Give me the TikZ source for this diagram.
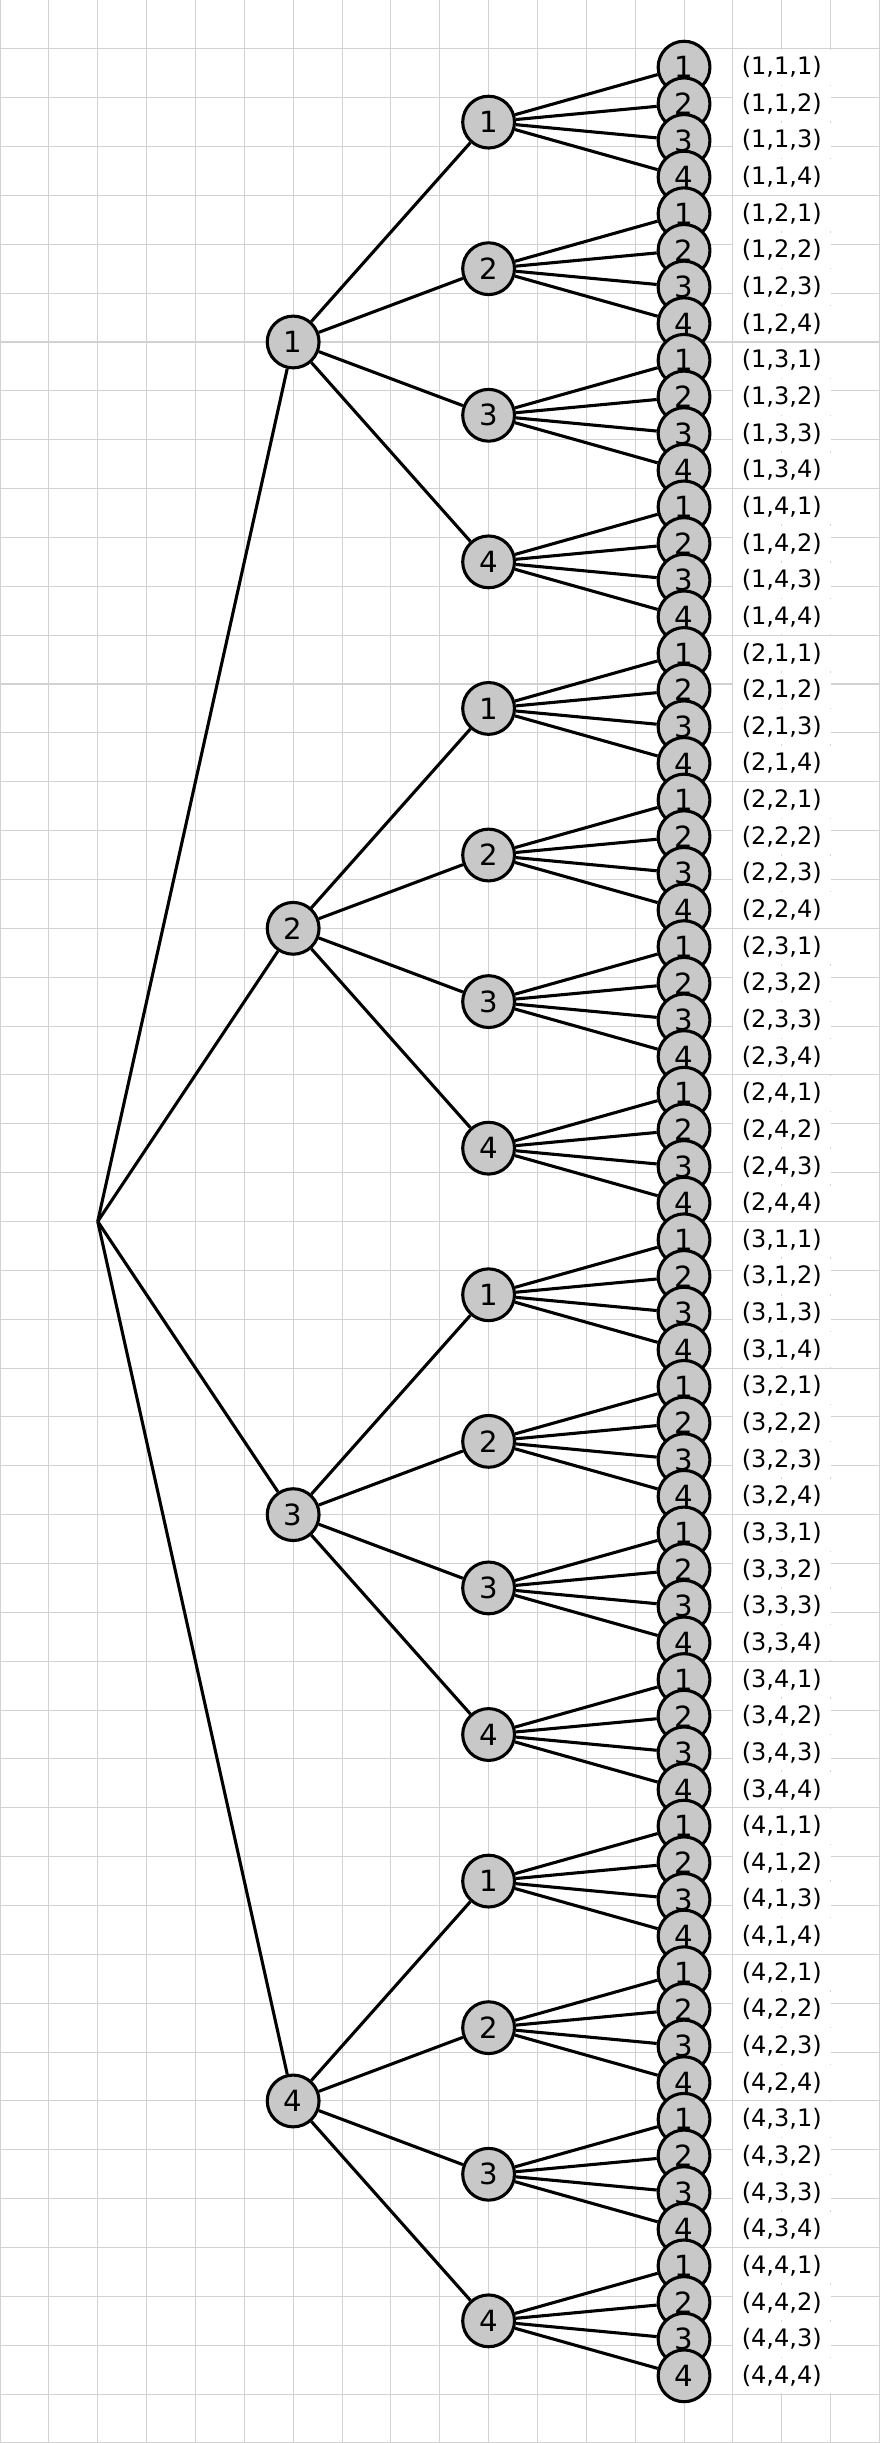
\documentclass[tikz,border=0pt]{standalone}
\usepackage{fontspec}
\setmainfont{DejaVu Sans}
\definecolor{gridc}{HTML}{D2D2D2}
\definecolor{nodefill}{HTML}{C8C8C8}
\tikzset{
  vertex/.style={circle, draw=black, fill=nodefill, line width=1.8pt,
    minimum size=1.06cm, inner sep=0pt, font=\fontsize{17}{17}\selectfont},
  branch/.style={black, line width=1.8pt},
  tuple/.style={fill=white, minimum width=2cm, minimum height=0.72cm,
    inner sep=0pt, font=\fontsize{14}{14}\selectfont}
}
\begin{document}
\begin{tikzpicture}
  \useasboundingbox (0,0) rectangle (18,50);
  \draw[gridc, line width=0.6pt] (0,0) grid (18,50);
  \coordinate (root) at (2,25);
  \foreach \i in {1,...,4} {
    \pgfmathsetmacro{\ya}{43-12*(\i-1)}
    \node[vertex] (n\i) at (6,\ya) {\i};
    \draw[branch] (root) -- (n\i);
    \foreach \j in {1,...,4} {
      \pgfmathsetmacro{\yb}{47.5-12*(\i-1)-3*(\j-1)}
      \node[vertex] (n\i-\j) at (10,\yb) {\j};
      \draw[branch] (n\i) -- (n\i-\j);
      % leaves and their tuples
      \foreach \l in {1,...,4} {
        \pgfmathsetmacro{\yc}{48.625-12*(\i-1)-3*(\j-1)-0.75*(\l-1)}
        \node[tuple] (t\i-\j-\l) at (16,\yc) {(\i,\j,\l)};
        \node[vertex] (n\i-\j-\l) at (14,\yc) {\l};
        \draw[branch] (n\i-\j) -- (n\i-\j-\l);
      }
    }
  }
\end{tikzpicture}
\end{document}
